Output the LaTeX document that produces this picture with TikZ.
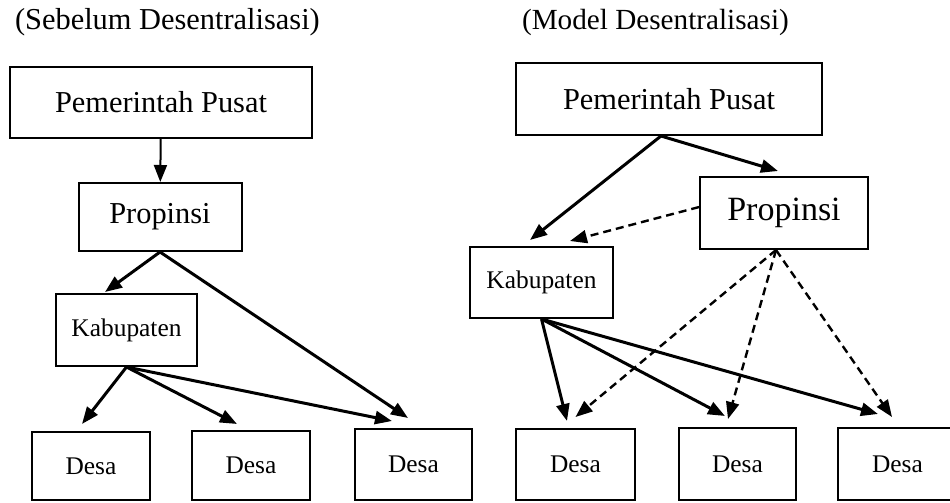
\documentclass[tikz,border=0pt]{standalone}
\usepackage{fontspec}
\setmainfont{Liberation Serif}
\usetikzlibrary{arrows.meta,calc}

\begin{document}
\begin{tikzpicture}[x=0.5pt, y=-0.5pt, >={Triangle[length=8.5pt,width=6.5pt]},
    kotak/.style={draw, line width=1pt, inner sep=0pt},
    besar/.style={font=\fontsize{15.2}{18}\selectfont},
    kecil/.style={font=\fontsize{12.7}{15}\selectfont},
    panah/.style={->, line width=1.5pt},
    putus/.style={->, line width=1.2pt, dash pattern=on 4pt off 2.5pt}]
  \useasboundingbox (0,0) rectangle (950,503);

  % Sebelum desentralisasi
  \begin{scope}[shift={(0,0)}]
    \node[besar, anchor=west] (judulL) at (8,22) {(Sebelum Desentralisasi)};

    \node[kotak, besar, minimum width=151pt, minimum height=35.5pt] (pusatL) at (161,102.5) {Pemerintah Pusat};
    \node[kotak, besar, minimum width=81.5pt, minimum height=34pt] (propL) at (160,217) {Propinsi};
    \node[kotak, kecil, minimum width=70.5pt, minimum height=36pt] (kabL) at (126.5,330) {Kabupaten};

    \node[kotak, kecil, minimum width=59pt, minimum height=34pt] (desaL1) at (91,466) {Desa};
    \node[kotak, kecil, minimum width=59pt, minimum height=34.5pt] (desaL2) at (251,465.5) {Desa};
    \node[kotak, kecil, minimum width=58.5pt, minimum height=35.5pt] (desaL3) at (413.5,464.5) {Desa};

    \draw[->, line width=1pt] (pusatL) -- (propL);
    \draw[panah] (propL.south) -- ($(kabL.north)+(-21.5,-1)$);
    \draw[panah] (propL.south) -- ($(desaL3.north)+(-5.5,-10)$);

    \draw[panah] (kabL.south) -- ($(desaL1.north)+(-9,-7)$);
    \draw[panah] (kabL.south) -- ($(desaL2.north)+(-14,-6)$);
    \draw[panah] (kabL.south) -- ($(desaL3.north)+(-21.5,-7)$);
  \end{scope}

  % Model desentralisasi
  \begin{scope}[shift={(508,0)}]
    \node[font=\fontsize{14.6}{17}\selectfont, anchor=west] (judulR) at (7,22) {(Model Desentralisasi)};

    \node[kotak, besar, minimum width=153pt, minimum height=36pt] (pusatR) at (161,99) {Pemerintah Pusat};
    \node[kotak, font=\fontsize{17}{20}\selectfont, minimum width=84pt, minimum height=36pt] (propR) at (276,213) {Propinsi};
    \node[kotak, kecil, minimum width=71.5pt, minimum height=35.5pt] (kabR) at (33.5,282.5) {Kabupaten};

    \node[kotak, kecil, minimum width=59.5pt, minimum height=35.5pt] (desaR1) at (67.5,464.5) {Desa};
    \node[kotak, kecil, minimum width=58.5pt, minimum height=36pt] (desaR2) at (229.5,464) {Desa};
    \node[kotak, kecil, minimum width=59.5pt, minimum height=36pt] (desaR3) at (389.5,464) {Desa};

    \draw[panah] ($(pusatR.south)+(-8,0)$) -- ($(kabR.north)+(-11.5,-6)$);
    \draw[panah] ($(pusatR.south)+(-8,0)$) -- ($(propR.north)+(-6,-5)$);

    \draw[putus] (propR.176) -- ($(kabR.north)+(28.5,-5)$);
    \draw[putus] ($(propR.south)+(-8,0)$) -- ($(desaR1.north)+(0,-11)$);
    \draw[putus] ($(propR.south)+(-8,0)$) -- ($(desaR2.north)+(-9.5,-8)$);
    \draw[putus] ($(propR.south)+(-8,0)$) -- ($(desaR3.north)+(-5.5,-10)$);

    \draw[panah] (kabR.south) -- ($(desaR1.north)+(-8.5,-7)$);
    \draw[panah] (kabR.south) -- ($(desaR2.north)+(-12.5,-11)$);
    \draw[panah] (kabR.south) -- ($(desaR3.north)+(-19.5,-13)$);
  \end{scope}
\end{tikzpicture}
\end{document}
